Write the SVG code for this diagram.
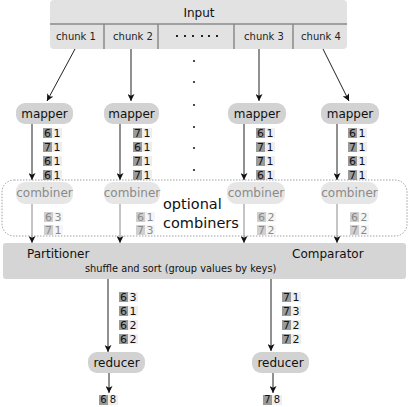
<svg xmlns="http://www.w3.org/2000/svg" width="409" height="407" viewBox="0 0 409 407">
<style>
text{font-family:"DejaVu Sans","Liberation Sans",sans-serif}
.lbl{font-size:12px;fill:#111;text-anchor:middle}
.ch{font-size:10px;fill:#222;text-anchor:middle}
.node{fill:#d2d2d2}
.cnode{fill:#e6e6e6}
.clbl{font-size:12px;fill:#8a8a8a;text-anchor:middle}
.k{fill:#9a9a9a}
.v{fill:#eeeeee}
.kt{font-size:11px;fill:#111;text-anchor:middle}
.ft{font-size:10px;fill:#111;text-anchor:middle}
.ck{fill:#cfcfcf}
.cv{fill:#f5f5f5}
.ckt{font-size:11px;fill:#8a8a8a;text-anchor:middle}
.ln{stroke:#222;stroke-width:1;fill:none}
.gln{stroke:#8a8a8a;stroke-width:1;fill:none}
.dot{fill:#222}
</style>
<defs>
<marker id="ah" viewBox="0 0 8 8" refX="8" refY="4" markerWidth="7" markerHeight="7" orient="auto" markerUnits="userSpaceOnUse"><path d="M0,0 L8,4 L0,8 L2,4 z" fill="#111"/></marker>
</defs>

<g id="input">
<rect x="50" y="0" width="297" height="49" rx="4" fill="#e2e2e2"/>
<line x1="50" y1="24" x2="347" y2="24" stroke="#8a8a8a" stroke-width="1.5"/>
<line x1="104" y1="24" x2="104" y2="49" stroke="#8a8a8a" stroke-width="1.5"/>
<line x1="158" y1="24" x2="158" y2="49" stroke="#8a8a8a" stroke-width="1.5"/>
<line x1="234" y1="24" x2="234" y2="49" stroke="#8a8a8a" stroke-width="1.5"/>
<line x1="293" y1="24" x2="293" y2="49" stroke="#8a8a8a" stroke-width="1.5"/>
<text class="lbl" x="199" y="17">Input</text>
<text class="ch" x="76" y="40">chunk 1</text>
<text class="ch" x="133" y="40">chunk 2</text>
<text class="ch" x="264" y="40">chunk 3</text>
<text class="ch" x="321" y="40">chunk 4</text>
<rect class="dot" x="176" y="35" width="2" height="2"/>
<rect class="dot" x="184" y="35" width="2" height="2"/>
<rect class="dot" x="192" y="35" width="2" height="2"/>
<rect class="dot" x="201" y="35" width="2" height="2"/>
<rect class="dot" x="208" y="35" width="2" height="2"/>
<rect class="dot" x="216" y="35" width="2" height="2"/>
</g>

<g id="vdots">
<circle class="dot" cx="194" cy="61" r="1.1"/>
<circle class="dot" cx="194" cy="82" r="1.1"/>
<circle class="dot" cx="194" cy="105" r="1.1"/>
<circle class="dot" cx="194" cy="127" r="1.1"/>
<circle class="dot" cx="194" cy="148" r="1.1"/>
<circle class="dot" cx="194" cy="170" r="1.1"/>
</g>

<g id="connectors">
<line class="ln" x1="75" y1="49" x2="47" y2="101" marker-end="url(#ah)"/>
<line class="ln" x1="131" y1="49" x2="131" y2="101" marker-end="url(#ah)"/>
<line class="ln" x1="259" y1="49" x2="259" y2="101" marker-end="url(#ah)"/>
<line class="ln" x1="323" y1="49" x2="349" y2="101" marker-end="url(#ah)"/>
<line class="ln" x1="32" y1="124" x2="32" y2="180" marker-end="url(#ah)"/>
<line class="ln" x1="120" y1="124" x2="120" y2="180" marker-end="url(#ah)"/>
<line class="ln" x1="244" y1="124" x2="244" y2="180" marker-end="url(#ah)"/>
<line class="ln" x1="337" y1="124" x2="337" y2="180" marker-end="url(#ah)"/>
<line class="gln" x1="32" y1="204" x2="32" y2="243" marker-end="url(#ah)"/>
<line class="gln" x1="120" y1="204" x2="120" y2="243" marker-end="url(#ah)"/>
<line class="gln" x1="244" y1="204" x2="244" y2="243" marker-end="url(#ah)"/>
<line class="gln" x1="337" y1="204" x2="337" y2="243" marker-end="url(#ah)"/>
<line class="ln" x1="108" y1="279" x2="108" y2="352" marker-end="url(#ah)"/>
<line class="ln" x1="271" y1="279" x2="271" y2="351" marker-end="url(#ah)"/>
<line class="ln" x1="109" y1="373" x2="109" y2="393" marker-end="url(#ah)"/>
<line class="ln" x1="273" y1="373" x2="273" y2="393" marker-end="url(#ah)"/>
</g>

<g id="mapper1">
<rect class="node" x="16" y="103" width="57" height="21" rx="9"/>
<text class="lbl" x="44.5" y="118">mapper</text>
<rect class="k" x="43" y="128" width="9" height="10"/><text class="kt" x="47.5" y="137">6</text><rect class="v" x="52" y="128" width="10" height="10"/><text class="kt" x="57" y="137">1</text>
<rect class="k" x="43" y="142" width="9" height="10"/><text class="kt" x="47.5" y="151">7</text><rect class="v" x="52" y="142" width="10" height="10"/><text class="kt" x="57" y="151">1</text>
<rect class="k" x="43" y="156" width="9" height="10"/><text class="kt" x="47.5" y="165">6</text><rect class="v" x="52" y="156" width="10" height="10"/><text class="kt" x="57" y="165">1</text>
<rect class="k" x="43" y="170" width="9" height="10"/><text class="kt" x="47.5" y="179">6</text><rect class="v" x="52" y="170" width="10" height="10"/><text class="kt" x="57" y="179">1</text>
</g>

<g id="mapper2">
<rect class="node" x="104" y="103" width="55" height="21" rx="9"/>
<text class="lbl" x="131.5" y="118">mapper</text>
<rect class="k" x="133" y="128" width="9" height="10"/><text class="kt" x="137.5" y="137">7</text><rect class="v" x="142" y="128" width="10" height="10"/><text class="kt" x="147" y="137">1</text>
<rect class="k" x="133" y="142" width="9" height="10"/><text class="kt" x="137.5" y="151">6</text><rect class="v" x="142" y="142" width="10" height="10"/><text class="kt" x="147" y="151">1</text>
<rect class="k" x="133" y="156" width="9" height="10"/><text class="kt" x="137.5" y="165">7</text><rect class="v" x="142" y="156" width="10" height="10"/><text class="kt" x="147" y="165">1</text>
<rect class="k" x="133" y="170" width="9" height="10"/><text class="kt" x="137.5" y="179">7</text><rect class="v" x="142" y="170" width="10" height="10"/><text class="kt" x="147" y="179">1</text>
</g>

<g id="mapper3">
<rect class="node" x="228" y="103" width="58" height="21" rx="9"/>
<text class="lbl" x="257" y="118">mapper</text>
<rect class="k" x="256" y="128" width="9" height="10"/><text class="kt" x="260.5" y="137">6</text><rect class="v" x="265" y="128" width="10" height="10"/><text class="kt" x="270" y="137">1</text>
<rect class="k" x="256" y="142" width="9" height="10"/><text class="kt" x="260.5" y="151">7</text><rect class="v" x="265" y="142" width="10" height="10"/><text class="kt" x="270" y="151">1</text>
<rect class="k" x="256" y="156" width="9" height="10"/><text class="kt" x="260.5" y="165">7</text><rect class="v" x="265" y="156" width="10" height="10"/><text class="kt" x="270" y="165">1</text>
<rect class="k" x="256" y="170" width="9" height="10"/><text class="kt" x="260.5" y="179">6</text><rect class="v" x="265" y="170" width="10" height="10"/><text class="kt" x="270" y="179">1</text>
</g>

<g id="mapper4">
<rect class="node" x="321" y="103" width="58" height="21" rx="9"/>
<text class="lbl" x="350" y="118">mapper</text>
<rect class="k" x="348" y="128" width="9" height="10"/><text class="kt" x="352.5" y="137">6</text><rect class="v" x="357" y="128" width="10" height="10"/><text class="kt" x="362" y="137">1</text>
<rect class="k" x="348" y="142" width="9" height="10"/><text class="kt" x="352.5" y="151">7</text><rect class="v" x="357" y="142" width="10" height="10"/><text class="kt" x="362" y="151">1</text>
<rect class="k" x="348" y="156" width="9" height="10"/><text class="kt" x="352.5" y="165">6</text><rect class="v" x="357" y="156" width="10" height="10"/><text class="kt" x="362" y="165">1</text>
<rect class="k" x="348" y="170" width="9" height="10"/><text class="kt" x="352.5" y="179">7</text><rect class="v" x="357" y="170" width="10" height="10"/><text class="kt" x="362" y="179">1</text>
</g>

<g id="optional-combiners">
<rect x="2" y="180" width="405" height="56" rx="12" fill="none" stroke="#888" stroke-width="0.8" stroke-dasharray="1.5 1.5"/>
<text x="163" y="209" font-size="14.5" fill="#111">optional</text>
<text x="163" y="228" font-size="14.5" fill="#111">combiners</text>
</g>

<g id="combiner1">
<rect class="cnode" x="16" y="182" width="57" height="22" rx="9"/>
<text class="clbl" x="44.5" y="197">combiner</text>
<rect class="ck" x="44" y="212" width="9" height="10"/><text class="ckt" x="48.5" y="221">6</text><rect class="cv" x="53" y="212" width="10" height="10"/><text class="ckt" x="58" y="221">3</text>
<rect class="ck" x="44" y="225" width="9" height="10"/><text class="ckt" x="48.5" y="234">7</text><rect class="cv" x="53" y="225" width="10" height="10"/><text class="ckt" x="58" y="234">1</text>
</g>

<g id="combiner2">
<rect class="cnode" x="104" y="182" width="56" height="22" rx="9"/>
<text class="clbl" x="132" y="197">combiner</text>
<rect class="ck" x="136" y="212" width="9" height="10"/><text class="ckt" x="140.5" y="221">6</text><rect class="cv" x="145" y="212" width="10" height="10"/><text class="ckt" x="150" y="221">1</text>
<rect class="ck" x="136" y="225" width="9" height="10"/><text class="ckt" x="140.5" y="234">7</text><rect class="cv" x="145" y="225" width="10" height="10"/><text class="ckt" x="150" y="234">3</text>
</g>

<g id="combiner3">
<rect class="cnode" x="227" y="182" width="58" height="22" rx="9"/>
<text class="clbl" x="256" y="197">combiner</text>
<rect class="ck" x="257" y="212" width="9" height="10"/><text class="ckt" x="261.5" y="221">6</text><rect class="cv" x="266" y="212" width="10" height="10"/><text class="ckt" x="271" y="221">2</text>
<rect class="ck" x="257" y="225" width="9" height="10"/><text class="ckt" x="261.5" y="234">7</text><rect class="cv" x="266" y="225" width="10" height="10"/><text class="ckt" x="271" y="234">2</text>
</g>

<g id="combiner4">
<rect class="cnode" x="321" y="182" width="57" height="22" rx="9"/>
<text class="clbl" x="349.5" y="197">combiner</text>
<rect class="ck" x="350" y="212" width="9" height="10"/><text class="ckt" x="354.5" y="221">6</text><rect class="cv" x="359" y="212" width="10" height="10"/><text class="ckt" x="364" y="221">2</text>
<rect class="ck" x="350" y="225" width="9" height="10"/><text class="ckt" x="354.5" y="234">7</text><rect class="cv" x="359" y="225" width="10" height="10"/><text class="ckt" x="364" y="234">2</text>
</g>

<g id="shuffle">
<rect x="3" y="243" width="403" height="36" rx="3" fill="#d5d5d5"/>
<text x="27" y="258" font-size="12" fill="#111">Partitioner</text>
<text x="292" y="258" font-size="12" fill="#111">Comparator</text>
<text x="85" y="272" font-size="9.8" fill="#111">shuffle and sort (group values by keys)</text>
</g>

<g id="reducer1">
<rect class="k" x="119" y="292" width="9" height="10"/><text class="kt" x="123.5" y="301">6</text><rect class="v" x="128" y="292" width="10" height="10"/><text class="kt" x="133" y="301">3</text>
<rect class="k" x="119" y="306" width="9" height="10"/><text class="kt" x="123.5" y="315">6</text><rect class="v" x="128" y="306" width="10" height="10"/><text class="kt" x="133" y="315">1</text>
<rect class="k" x="119" y="320" width="9" height="10"/><text class="kt" x="123.5" y="329">6</text><rect class="v" x="128" y="320" width="10" height="10"/><text class="kt" x="133" y="329">2</text>
<rect class="k" x="119" y="334" width="9" height="10"/><text class="kt" x="123.5" y="343">6</text><rect class="v" x="128" y="334" width="10" height="10"/><text class="kt" x="133" y="343">2</text>
<rect class="node" x="88" y="352" width="57" height="21" rx="9"/>
<text class="lbl" x="116.5" y="367">reducer</text>
<rect class="k" x="99" y="395" width="9" height="10"/><text class="ft" x="103.5" y="403">6</text><rect class="v" x="108" y="395" width="10" height="10"/><text class="ft" x="113" y="403">8</text>
</g>

<g id="reducer2">
<rect class="k" x="282" y="292" width="9" height="10"/><text class="kt" x="286.5" y="301">7</text><rect class="v" x="291" y="292" width="10" height="10"/><text class="kt" x="296" y="301">1</text>
<rect class="k" x="282" y="306" width="9" height="10"/><text class="kt" x="286.5" y="315">7</text><rect class="v" x="291" y="306" width="10" height="10"/><text class="kt" x="296" y="315">3</text>
<rect class="k" x="282" y="320" width="9" height="10"/><text class="kt" x="286.5" y="329">7</text><rect class="v" x="291" y="320" width="10" height="10"/><text class="kt" x="296" y="329">2</text>
<rect class="k" x="282" y="334" width="9" height="10"/><text class="kt" x="286.5" y="343">7</text><rect class="v" x="291" y="334" width="10" height="10"/><text class="kt" x="296" y="343">2</text>
<rect class="node" x="252" y="352" width="57" height="21" rx="9"/>
<text class="lbl" x="280.5" y="367">reducer</text>
<rect class="k" x="263" y="395" width="9" height="10"/><text class="ft" x="267.5" y="403">7</text><rect class="v" x="272" y="395" width="10" height="10"/><text class="ft" x="277" y="403">8</text>
</g>
</svg>
